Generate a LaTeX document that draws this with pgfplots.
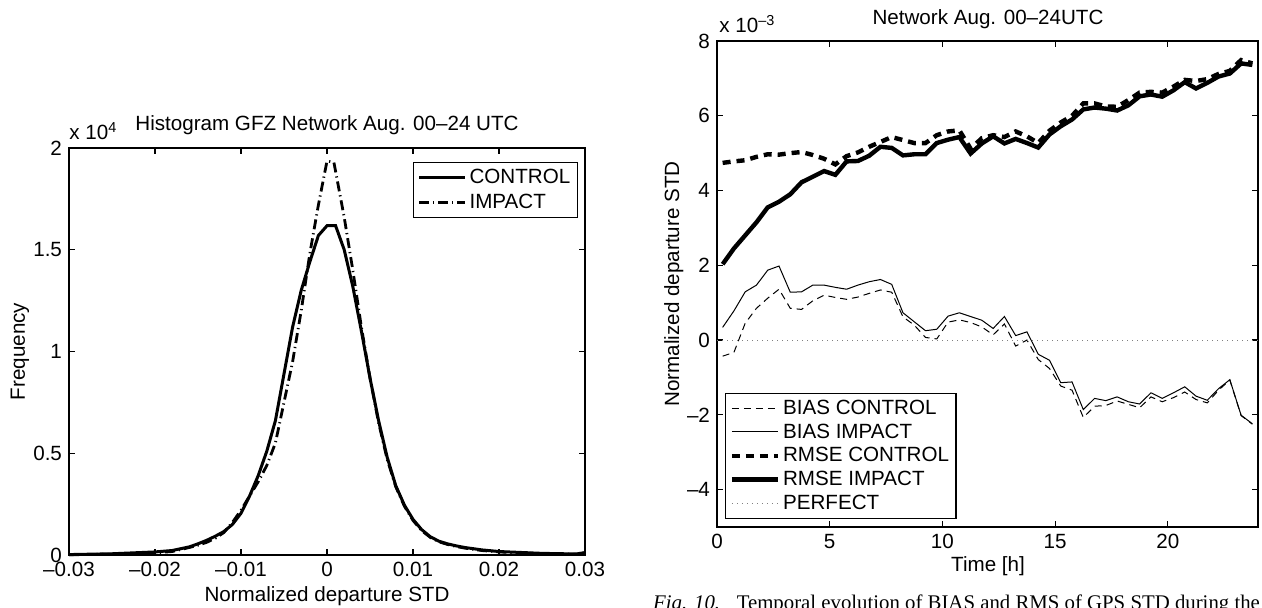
\documentclass[border=0pt]{standalone}
\usepackage{pgfplots}
\usepackage{pgfplotstable}
\pgfplotsset{compat=1.18}
\usepackage{fontspec}
\setmainfont{Liberation Sans}
\newfontfamily\capfont{Liberation Serif}
\newcommand\lbl{\fontsize{10.3}{12}\selectfont}

% histogram of normalized departures (frequency in units of 10^4)
\pgfplotstableread{
x y
-0.030 0.002
-0.025 0.006
-0.020 0.015
-0.018 0.022
-0.016 0.040
-0.015 0.055
-0.014 0.072
-0.013 0.092
-0.012 0.115
-0.011 0.150
-0.010 0.205
-0.009 0.290
-0.008 0.390
-0.007 0.510
-0.006 0.660
-0.005 0.890
-0.004 1.120
-0.003 1.300
-0.002 1.440
-0.001 1.570
0.000 1.618
0.001 1.618
0.002 1.500
0.003 1.320
0.004 1.100
0.005 0.870
0.006 0.660
0.007 0.480
0.008 0.340
0.009 0.245
0.010 0.175
0.011 0.125
0.012 0.090
0.013 0.068
0.014 0.055
0.015 0.045
0.016 0.037
0.018 0.025
0.020 0.017
0.025 0.008
0.029 0.005
0.030 0.012
}\histcontrol

\pgfplotstableread{
x y
-0.030 0.001
-0.025 0.004
-0.020 0.011
-0.018 0.017
-0.016 0.037
-0.015 0.048
-0.014 0.062
-0.013 0.082
-0.012 0.110
-0.011 0.160
-0.010 0.220
-0.009 0.290
-0.008 0.360
-0.007 0.440
-0.006 0.550
-0.005 0.750
-0.004 0.950
-0.003 1.200
-0.002 1.480
-0.001 1.720
0.000 1.936
0.0008 1.930
0.002 1.660
0.003 1.400
0.004 1.120
0.005 0.870
0.006 0.650
0.007 0.470
0.008 0.335
0.009 0.240
0.010 0.170
0.011 0.120
0.012 0.087
0.013 0.065
0.014 0.052
0.015 0.042
0.016 0.034
0.018 0.022
0.020 0.015
0.025 0.006
0.030 0.003
}\histimpact

% hourly statistics (units of 10^-3)
\pgfplotstableread{
t bc bi rc ri
0.25 -0.43 0.34 4.74 2.03
0.75 -0.33 0.78 4.78 2.45
1.25 0.45 1.29 4.81 2.80
1.75 0.85 1.47 4.90 3.15
2.25 1.12 1.87 4.97 3.55
2.75 1.36 1.98 4.96 3.70
3.25 0.85 1.28 5.00 3.90
3.75 0.82 1.29 5.03 4.22
4.25 1.05 1.47 4.95 4.37
4.75 1.20 1.47 4.85 4.52
5.25 1.14 1.41 4.70 4.42
5.75 1.09 1.36 4.92 4.78
6.25 1.15 1.47 5.02 4.79
6.75 1.25 1.56 5.17 4.93
7.25 1.34 1.62 5.30 5.17
7.75 1.28 1.49 5.43 5.14
8.25 0.62 0.73 5.35 4.94
8.75 0.40 0.49 5.27 4.97
9.25 0.07 0.25 5.27 4.97
9.75 0.03 0.29 5.48 5.27
10.25 0.48 0.64 5.58 5.36
10.75 0.54 0.73 5.61 5.43
11.25 0.47 0.63 5.12 4.99
11.75 0.35 0.53 5.40 5.26
12.25 0.14 0.31 5.48 5.45
12.75 0.43 0.63 5.43 5.26
13.25 -0.16 0.12 5.58 5.38
13.75 0.00 0.22 5.45 5.27
14.25 -0.52 -0.38 5.27 5.15
14.75 -0.76 -0.54 5.60 5.50
15.25 -1.23 -1.14 5.82 5.72
15.75 -1.34 -1.12 6.00 5.90
16.25 -2.07 -1.86 6.33 6.17
16.75 -1.77 -1.56 6.33 6.22
17.25 -1.75 -1.62 6.25 6.19
17.75 -1.63 -1.52 6.24 6.14
18.25 -1.72 -1.65 6.42 6.28
18.75 -1.81 -1.71 6.62 6.52
19.25 -1.52 -1.41 6.64 6.57
19.75 -1.65 -1.56 6.62 6.51
20.25 -1.54 -1.41 6.78 6.68
20.75 -1.39 -1.25 6.96 6.90
21.25 -1.59 -1.50 6.93 6.73
21.75 -1.68 -1.61 6.98 6.88
22.25 -1.34 -1.30 7.12 7.05
22.75 -1.07 -1.06 7.20 7.13
23.25 -2.02 -2.01 7.49 7.40
23.75 -2.25 -2.24 7.40 7.36
}\hourly

\pgfplotsset{
  matlab/.style={
    scale only axis,
    clip=false,
    scaled ticks=false,
    axis line style={line width=0.75pt},
    every tick/.style={black, line width=0.6pt},
    major tick length=3pt,
    tick align=inside,
    tick label style={font=\lbl},
    legend cell align=left,
    legend style={font=\lbl, draw=black, line width=0.7pt, fill=white,
      inner xsep=2pt, inner ysep=1.5pt,
      nodes={inner xsep=1.5pt, inner ysep=1.5pt, text height=7.5pt, text depth=1.8pt}},
    legend image code/.code={\draw[##1] (0pt,0pt) -- (23pt,0pt);},
  }
}

\begin{document}
\begin{tikzpicture}
\path[use as bounding box] (0,0) rectangle (631pt,304pt);

% left: histogram
\begin{axis}[matlab,
  at={(34.5pt,26.5pt)}, anchor=south west,
  width=258pt, height=203.5pt,
  xmin=-0.03, xmax=0.03, ymin=0, ymax=2,
  xtick={-0.03,-0.02,-0.01,0,0.01,0.02,0.03},
  xticklabels={–0.03,–0.02,–0.01,0,0.01,0.02,0.03},
  ytick={0,0.5,1,1.5,2},
  yticklabels={0,0.5,1,1.5,2},
  legend style={at={(0.9864,0.966)}, anchor=north east},
]
\addplot[black, line width=1.5pt] table[x=x, y=y] {\histcontrol};
\addlegendentry{CONTROL}
\addplot[black, line width=1.4pt, dash pattern=on 5pt off 2pt on 0.6pt off 2pt] table[x=x, y=y] {\histimpact};
\addlegendentry{IMPACT}
\end{axis}

% right: temporal evolution
\begin{axis}[matlab,
  at={(358.5pt,40.5pt)}, anchor=south west,
  width=270.5pt, height=243pt,
  xmin=0, xmax=24, ymin=-5, ymax=8,
  xtick={0,5,10,15,20},
  xticklabels={0,5,10,15,20},
  ytick={-4,-2,0,2,4,6,8},
  yticklabels={–4,–2,0,2,4,6,8},
  legend style={at={(0.0148,0.0165)}, anchor=south west,
    nodes={text depth=1.4pt}},
]
\addplot[black, line width=0.5pt, dash pattern=on 3.5pt off 2.5pt] table[x=t, y=bc] {\hourly};
\addlegendentry{BIAS CONTROL}
\addplot[black, line width=0.5pt] table[x=t, y=bi] {\hourly};
\addlegendentry{BIAS IMPACT}
\addplot[black, line width=2.2pt, dash pattern=on 4pt off 3pt] table[x=t, y=rc] {\hourly};
\addlegendentry{RMSE CONTROL}
\addplot[black, line width=2.2pt] table[x=t, y=ri] {\hourly};
\addlegendentry{RMSE IMPACT}
\addplot[gray, line width=0.5pt, dash pattern=on 0.5pt off 2pt] coordinates {(0,0) (24,0)};
\addlegendentry{PERFECT}
\end{axis}

% titles, axis labels and exponent labels
\begin{scope}[every node/.style={inner sep=0, font=\lbl}]
\node[anchor=base] at (163.5pt,238.5pt) {Histogram GFZ Network Aug. 00–24 UTC};
\node[anchor=base west] at (34.5pt,234pt) {x 10\textsuperscript{4}};
\node[anchor=base] at (163.5pt,3.2pt) {Normalized departure STD};
\node[anchor=base, rotate=90] at (12.5pt,128.25pt) {Frequency};

\node[anchor=base] at (494pt,291.5pt) {Network Aug. 00–24UTC};
\node[anchor=base west] at (359.5pt,287.5pt) {x 10\textsuperscript{–3}};
\node[anchor=base] at (494pt,18.2pt) {Time [h]};
\node[anchor=base, rotate=90] at (339.5pt,162pt) {Normalized departure STD};
\end{scope}

\node[anchor=base west, inner sep=0, font=\capfont\fontsize{10.4}{12}\selectfont]
  at (326.35pt,-0.9pt) {\textit{Fig. 10.}\hspace{0.8em}Temporal evolution of BIAS and RMS of GPS STD during the};
\end{tikzpicture}
\end{document}
